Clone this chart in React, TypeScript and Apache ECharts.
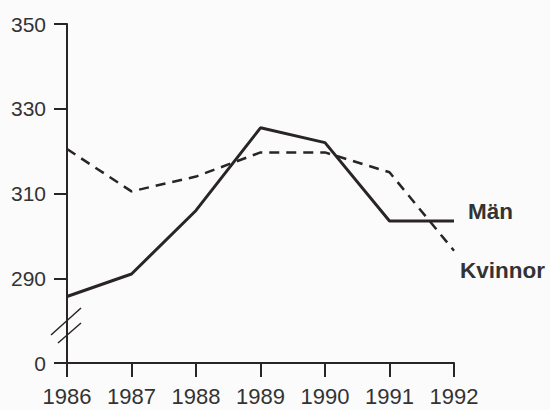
import React, { useEffect, useRef } from "react";
import * as echarts from "echarts";

const years = ["1986", "1987", "1988", "1989", "1990", "1991", "1992"];
const man = [285.7, 291, 306, 325.5, 322, 303.5, 303.5];
const kvinnor = [320.5, 310.5, 314, 319.7, 319.7, 315, 296.5];
const yTicks = [270, 290, 310, 330, 350];
const yTickLabels = ["0", "290", "310", "330", "350"];

const INK = "#2a2525";
const TXT = "#333333";
const FONT = "'Liberation Sans', Arial, Helvetica, sans-serif";

export default function App() {
  const ref = useRef<HTMLDivElement>(null);
  useEffect(() => {
    if (!ref.current) return;
    const chart = echarts.init(ref.current, undefined, { renderer: "svg" });
    chart.setOption({
      animation: false,
      backgroundColor: "#fbfbfb",
      textStyle: { fontFamily: FONT },
      grid: { left: 67, right: 96, top: 24, bottom: 47, containLabel: false },
      xAxis: {
        type: "category",
        data: years,
        boundaryGap: false,
        axisLine: { lineStyle: { color: INK, width: 2 } },
        axisTick: { show: true, length: 14, lineStyle: { color: INK, width: 2 } },
        axisLabel: { color: TXT, fontSize: 22, margin: 22, fontFamily: FONT },
        splitLine: { show: false },
      },
      yAxis: {
        type: "value",
        min: yTicks[0],
        max: yTicks[yTicks.length - 1],
        interval: 20,
        axisLine: { show: true, lineStyle: { color: INK, width: 2 } },
        axisTick: { show: true, length: 13, lineStyle: { color: INK, width: 2 } },
        axisLabel: {
          color: TXT,
          fontSize: 21,
          margin: 21,
          fontFamily: FONT,
          formatter: (v: number) => {
            const i = yTicks.indexOf(v);
            return i >= 0 ? yTickLabels[i] : "";
          },
        },
        splitLine: { show: false },
      },
      series: [
        {
          name: "Män",
          type: "line",
          data: man,
          symbol: "none",
          lineStyle: { color: INK, width: 3 },
          endLabel: {
            show: true,
            formatter: "Män",
            position: "right",
            distance: 5,
            offset: [9, -10],
            color: TXT,
            fontSize: 22.5,
            fontWeight: "bold",
            fontFamily: FONT,
          },
        },
        {
          name: "Kvinnor",
          type: "line",
          data: kvinnor,
          symbol: "none",
          lineStyle: { color: INK, width: 2.5, type: [10, 7] },
          endLabel: {
            show: true,
            formatter: "Kvinnor",
            position: "right",
            distance: 5,
            offset: [1, 20],
            color: TXT,
            fontSize: 22.5,
            fontWeight: "bold",
            fontFamily: FONT,
          },
        },
      ],
      graphic: [
        {
          type: "line",
          shape: { x1: 51, y1: 335, x2: 81, y2: 308 },
          style: { stroke: INK, lineWidth: 1.5 },
        },
        {
          type: "line",
          shape: { x1: 58, y1: 343, x2: 81, y2: 323 },
          style: { stroke: INK, lineWidth: 1.5 },
        },
      ],
    });
    return () => chart.dispose();
  }, []);
  return (
    <div
      ref={ref}
      style={{ position: "fixed", left: 0, top: 0, width: 550, height: 410 }}
    />
  );
}
